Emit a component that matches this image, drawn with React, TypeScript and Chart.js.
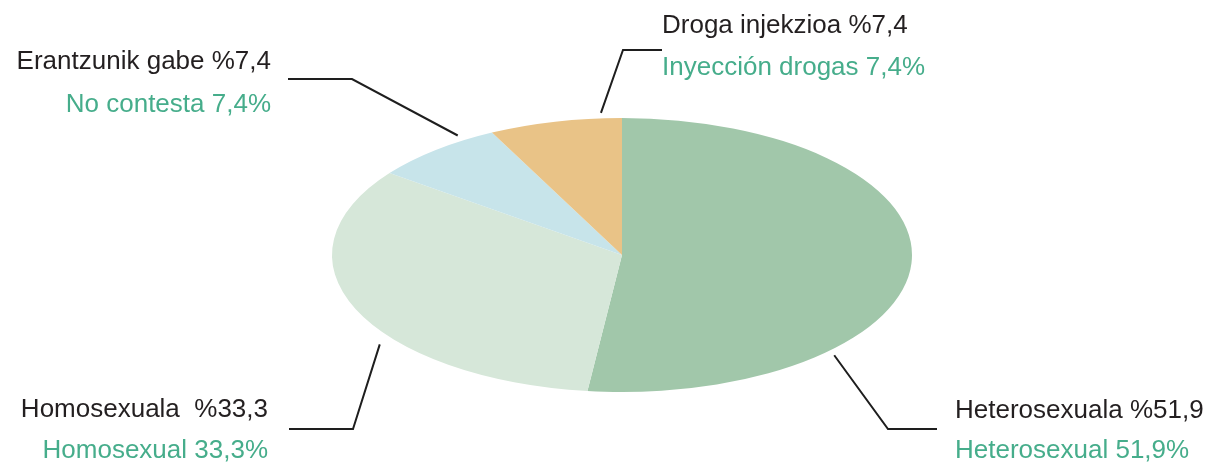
import { useEffect, useRef } from "react";
import { Chart, registerables } from "chart.js";

Chart.register(...registerables);

// ---- data ----
const categoriesEu = ["Heterosexuala", "Homosexuala ", "Erantzunik gabe", "Droga injekzioa"];
const categoriesEs = ["Heterosexual", "Homosexual", "No contesta", "Inyección drogas"];
const values = [51.9, 33.3, 7.4, 7.4];

// ---- styles / layout ----
const sliceColors = ["#a1c7aa", "#d6e7d9", "#c7e4ea", "#e9c387"];
const TEXT_DARK = "#231f20";
const TEXT_GREEN = "#46ad8b";
const LINE_COLOR = "#1e1e1e";
const FONT = '26px "Liberation Sans", Arial, Helvetica, sans-serif';
const W = 1211;
const H = 463;
const X_STRETCH = 290 / 137; // squash circle into an ellipse

type LabelLayout = {
  align: CanvasTextAlign;
  textX: number;
  base1: number;
  base2: number;
  anchorDeg: number;
  anchorFactor: number;
  elbow: [number, number];
  end: [number, number];
};

const labelLayout: LabelLayout[] = [
  { align: "left", textX: 955, base1: 418, base2: 458, anchorDeg: 45, anchorFactor: 1.035, elbow: [888, 429], end: [937, 429] },
  { align: "right", textX: 268, base1: 417, base2: 458, anchorDeg: 142, anchorFactor: 1.06, elbow: [353, 429], end: [289, 429] },
  { align: "right", textX: 271, base1: 69, base2: 112, anchorDeg: 237, anchorFactor: 1.04, elbow: [352, 79], end: [288, 79] },
  { align: "left", textX: 662, base1: 33, base2: 75, anchorDeg: 266, anchorFactor: 1.04, elbow: [623, 50], end: [662, 50] },
];

const fmt = (v: number) => v.toFixed(1).replace(".", ",");

const ellipsePlugin = {
  id: "ellipse",
  beforeDatasetsDraw(chart: any) {
    const arc = chart.getDatasetMeta(0).data[0];
    if (!arc) return;
    const ctx = chart.ctx;
    ctx.save();
    ctx.translate(arc.x, arc.y);
    ctx.scale(X_STRETCH, 1);
    ctx.translate(-arc.x, -arc.y);
  },
  afterDatasetsDraw(chart: any) {
    chart.ctx.restore();
  },
};

const labelsPlugin = {
  id: "pieLabels",
  afterDraw(chart: any) {
    const meta = chart.getDatasetMeta(0);
    const arc = meta.data[0];
    if (!arc) return;
    const ctx: CanvasRenderingContext2D = chart.ctx;
    const cx = arc.x;
    const cy = arc.y;
    const R = arc.outerRadius;
    ctx.save();
    values.forEach((v, i) => {
      const L = labelLayout[i];
      const a = (L.anchorDeg * Math.PI) / 180;
      const sx = cx + X_STRETCH * R * L.anchorFactor * Math.cos(a);
      const sy = cy + R * L.anchorFactor * Math.sin(a);
      ctx.beginPath();
      ctx.strokeStyle = LINE_COLOR;
      ctx.lineWidth = 2;
      ctx.lineJoin = "miter";
      ctx.moveTo(sx, sy);
      ctx.lineTo(L.elbow[0], L.elbow[1]);
      ctx.lineTo(L.end[0], L.end[1]);
      ctx.stroke();

      ctx.font = FONT;
      ctx.textAlign = L.align;
      ctx.textBaseline = "alphabetic";
      ctx.fillStyle = TEXT_DARK;
      ctx.fillText(`${categoriesEu[i]} %${fmt(v)}`, L.textX, L.base1);
      ctx.fillStyle = TEXT_GREEN;
      ctx.fillText(`${categoriesEs[i]} ${fmt(v)}%`, L.textX, L.base2);
    });
    ctx.restore();
  },
};

export default function App() {
  const ref = useRef<HTMLCanvasElement | null>(null);
  useEffect(() => {
    if (!ref.current) return;
    const chart = new Chart(ref.current, {
      type: "pie",
      data: {
        labels: categoriesEs,
        datasets: [
          {
            data: values,
            backgroundColor: sliceColors,
            borderWidth: 0,
          },
        ],
      },
      options: {
        responsive: false,
        animation: false,
        events: [],
        rotation: 0,
        layout: { padding: { top: 118, bottom: 71, left: 33, right: 0 } },
        plugins: {
          legend: { display: false },
          tooltip: { enabled: false },
        },
      },
      plugins: [ellipsePlugin, labelsPlugin],
    });
    return () => chart.destroy();
  }, []);
  return (
    <div style={{ position: "fixed", left: 0, top: 0, width: W, height: H, background: "#fff" }}>
      <canvas ref={ref} width={W} height={H} style={{ width: W, height: H }} />
    </div>
  );
}
